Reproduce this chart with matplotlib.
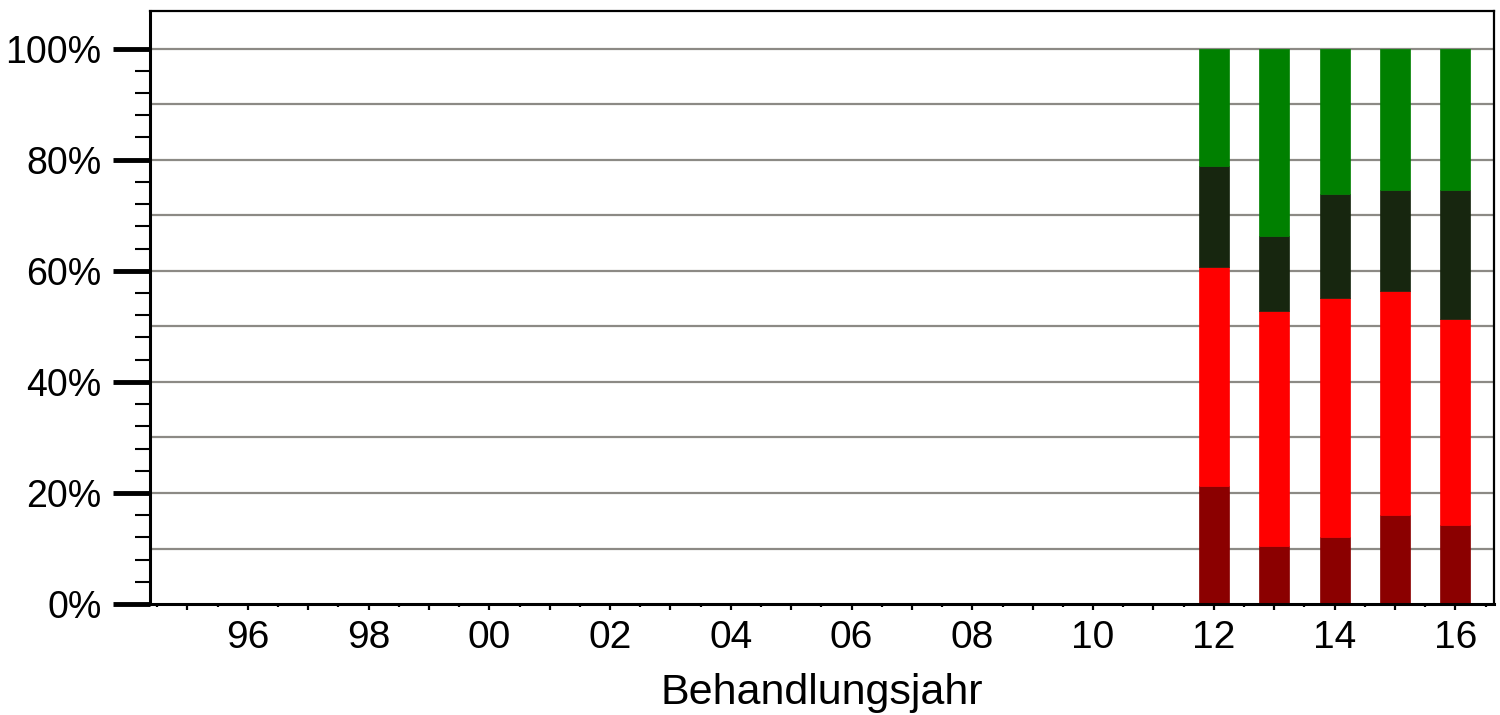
import matplotlib
matplotlib.use("Agg")
import matplotlib.pyplot as plt
from matplotlib.ticker import FixedLocator, MultipleLocator, FuncFormatter

plt.rcParams['font.family'] = ['Liberation Sans', 'DejaVu Sans']

years = [2012, 2013, 2014, 2015, 2016]
share_darkred = [21.3, 10.5, 12.1, 16.0, 14.2]
share_red = [39.4, 42.3, 43.0, 40.3, 37.2]
share_dark = [18.2, 13.4, 18.7, 18.2, 23.1]
share_green = [21.1, 33.8, 26.2, 25.5, 25.5]

series = [
    (share_darkred, '#8b0000'),
    (share_red, '#ff0000'),
    (share_dark, '#17260f'),
    (share_green, '#008000'),
]

fig = plt.figure(figsize=(15, 7.15), dpi=100)
ax = fig.add_axes([0.1, 0.155, 0.896, 0.83])

# horizontal gridlines every 10 %
for g in range(10, 101, 10):
    ax.axhline(g, color='#8c8a85', lw=1.6, zorder=0)

bottom = [0.0] * len(years)
for vals, col in series:
    ax.bar(years, vals, width=0.5, bottom=bottom, color=col,
           edgecolor=col, linewidth=0.5, zorder=2)
    bottom = [b + v for b, v in zip(bottom, vals)]

ax.set_xlim(1994.38, 2016.64)
ax.set_ylim(0, 106.8)

# y axis: labelled ticks every 20 %, minor ticks every 4 % up to 100 %
ax.yaxis.set_major_locator(FixedLocator(list(range(0, 101, 20))))
ax.yaxis.set_minor_locator(FixedLocator([v for v in range(4, 100, 4) if v % 20]))
ax.yaxis.set_major_formatter(FuncFormatter(lambda v, p: f"{int(round(v))}%"))
ax.tick_params(axis='y', which='major', length=27, width=3.5,
               labelsize=27, pad=8, direction='out')
ax.tick_params(axis='y', which='minor', length=10.5, width=1.5, direction='out')

# x axis: ticks every year, labels on even years, minor ticks every half year
ax.xaxis.set_major_locator(MultipleLocator(1))
ax.xaxis.set_minor_locator(MultipleLocator(0.5))
ax.xaxis.set_major_formatter(FuncFormatter(
    lambda v, p: f"{int(round(v)) % 100:02d}" if int(round(v)) % 2 == 0 else ""))
ax.tick_params(axis='x', which='major', length=4.5, width=1.6,
               labelsize=28, pad=7, direction='out')
ax.tick_params(axis='x', which='minor', length=2.5, width=1.6, direction='out')

for side in ['left', 'bottom']:
    ax.spines[side].set_linewidth(2.2)
for side in ['top', 'right']:
    ax.spines[side].set_linewidth(1.6)

ax.set_xlabel("Behandlungsjahr", fontsize=31, labelpad=12)

fig.savefig("out.png", dpi=100)
